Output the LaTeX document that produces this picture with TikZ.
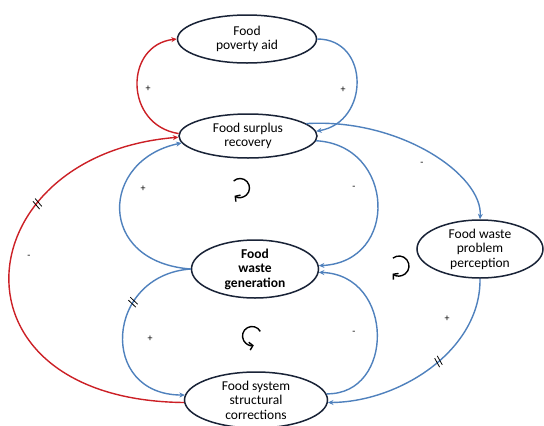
\documentclass[tikz,border=0pt]{standalone}
\usepackage{fontspec}
\setmainfont{Carlito}
\usetikzlibrary{shapes.geometric,arrows.meta,decorations.markings}
\definecolor{eblue}{RGB}{79,129,189}
\definecolor{ered}{RGB}{204,32,38}
\definecolor{eline}{RGB}{25,35,55}
\tikzset{
  var/.style={ellipse, draw=eline, line width=1.5pt, fill=white, inner sep=0pt, align=center,
    font=\fontsize{13.5}{14.5}\selectfont},
  link/.style={line width=1.4pt, -{Stealth[length=5.5pt,width=5pt]}},
  bl/.style={link, draw=eblue},
  rd/.style={link, draw=ered},
  sign/.style={font=\fontsize{10}{11}\selectfont, inner sep=0pt},
  loopsym/.style={line width=1.4pt, black, -{Straight Barb[length=3.5pt,width=8pt]}},
  delay/.style={postaction={decorate, decoration={markings,
    mark=at position #1 with {\draw[-, line width=0.8pt, black] (-2pt,-5pt) -- (0pt,5pt);
      \draw[-, line width=0.8pt, black] (1.5pt,-5pt) -- (3.5pt,5pt);}}}}
}
\begin{document}
\begin{tikzpicture}[x=1pt,y=-1pt]
\useasboundingbox (0,0) rectangle (544,426);
\fill[white] (0,0) rectangle (544,426);

\node[var, minimum width=139pt, minimum height=48pt] (poverty) at (247,39) {Food\\poverty aid};
\node[var, minimum width=138pt, minimum height=44pt] (surplus) at (248,136) {Food surplus\\recovery};
\node[var, minimum width=127pt, minimum height=58pt, font=\fontsize{13.5}{14.5}\selectfont\bfseries] (generation) at (255,269) {Food\\waste\\generation};
\node[var, minimum width=143pt, minimum height=56pt] (structural) at (256,400) {Food system\\structural\\corrections};
\node[var, minimum width=126pt, minimum height=58pt] (perception) at (480,249) {Food waste\\problem\\perception};

% connectors
\draw[rd] (surplus.178) .. controls (124,125) and (124,45) .. (poverty.west);
\draw[bl] (poverty.east) .. controls (370,39) and (370,122) .. (surplus.4);
\draw[bl] (surplus.12) .. controls (400,118) and (483,175) .. (perception.north);
\draw[bl] (generation.west) .. controls (96,262) and (100,160) .. (surplus.186);
\draw[bl] (surplus.-4) .. controls (395,145) and (400,262) .. (generation.3);
\draw[bl, delay=0.34] (generation.west) .. controls (105,275) and (98,395) .. (structural.176);
\draw[bl] (structural.5) .. controls (395,395) and (395,275) .. (generation.-3);
\draw[bl, delay=0.44] (perception.south) .. controls (481,350) and (400,402) .. (structural.-2);
\draw[rd, delay=0.665] (structural.182) .. controls (-60,400) and (-36,155) .. (surplus.181);

% signs
\node[sign] (s1) at (148,89) {+};
\node[sign] (s2) at (343,90) {+};
\node[sign] (s3) at (422,164) {-};
\node[sign] (s4) at (143,189) {+};
\node[sign] (s5) at (354,188) {-};
\node[sign] (s6) at (150,339) {+};
\node[sign] (s7) at (354,333) {-};
\node[sign] (s8) at (447,319) {+};
\node[sign] (s9) at (29,257) {-};

% loop symbols
\draw[loopsym] (240,188) ++(-132:9.5) arc[start angle=-132, end angle=125, radius=9.5];
\draw[loopsym] (252,336) ++(-29:9.5) arc[start angle=-29, end angle=-281, radius=9.5];
\draw[loopsym] (399,266) ++(-128:10) arc[start angle=-128, end angle=130, radius=10];
\end{tikzpicture}
\end{document}
